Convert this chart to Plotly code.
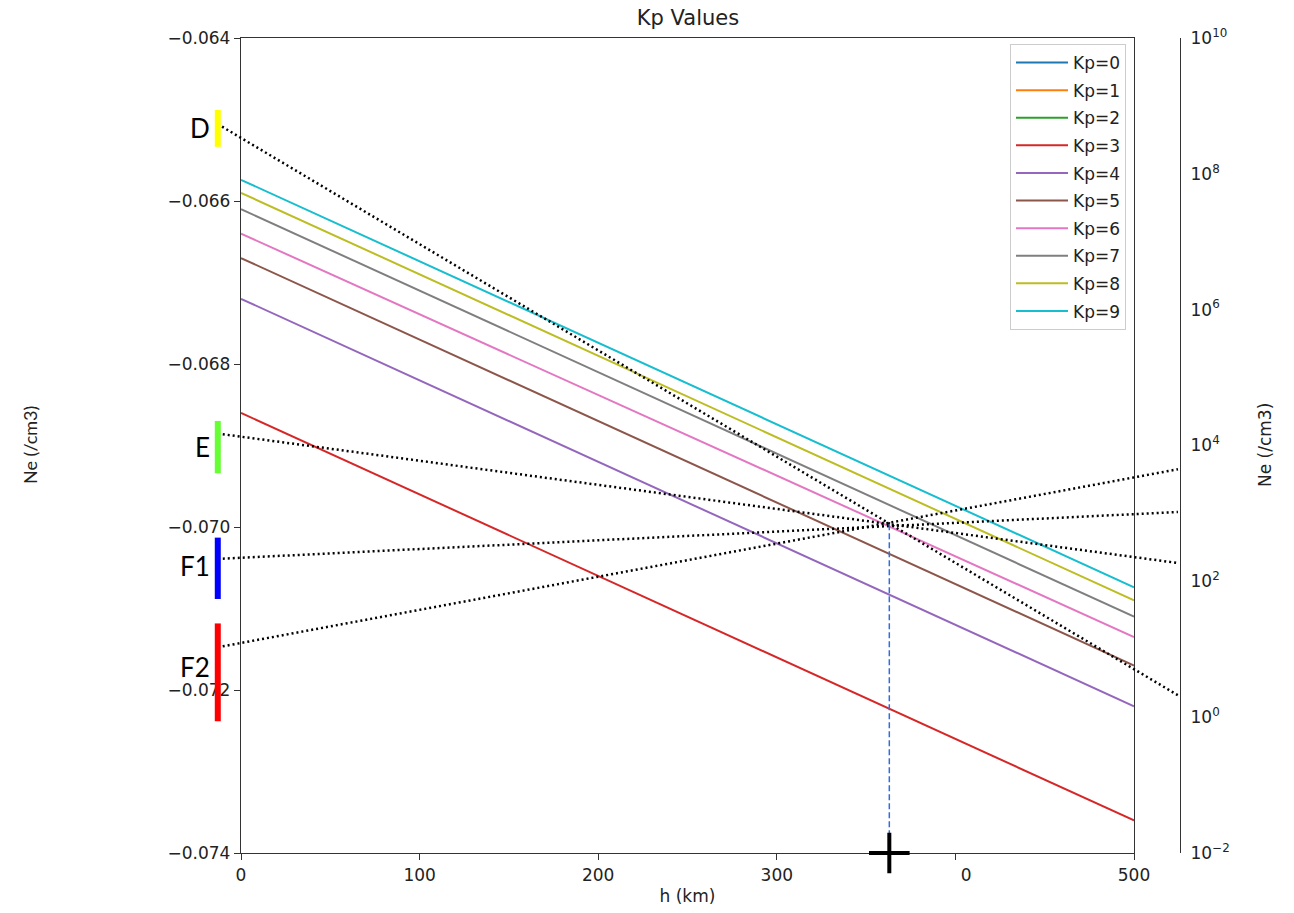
import math
import plotly.graph_objects as go

# ---- data -------------------------------------------------------------
h_km = [0, 500]
kp_labels = ["Kp=0", "Kp=1", "Kp=2", "Kp=3", "Kp=4", "Kp=5", "Kp=6", "Kp=7", "Kp=8", "Kp=9"]
kp_colors = ["#1f77b4", "#ff7f0e", "#2ca02c", "#d62728", "#9467bd",
             "#8c564b", "#e377c2", "#7f7f7f", "#bcbd22", "#17becf"]
# Ne value of each Kp line at h = 0 and h = 500 km (left axis)
kp_ne = [
    [-0.0850, -0.0900],
    [-0.0790, -0.0840],
    [-0.0752, -0.0802],
    [-0.0686, -0.0736],
    [-0.0672, -0.0722],
    [-0.0667, -0.0717],
    [-0.0664, -0.07135],
    [-0.0661, -0.0711],
    [-0.0659, -0.0709],
    [-0.06574, -0.07074],
]

# ionospheric layers (right, logarithmic axis)
layer_names = ["D", "E", "F1", "F2"]
layer_colors = ["#ffff00", "#66ff33", "#0000ff", "#ff0000"]
layer_low = [2.5e8, 3.9e3, 55, 0.87]
layer_high = [8.7e8, 2.3e4, 440, 24]
layer_x = -13            # h (km) where the layer bars sit
trend_x = [-13, 524.6]   # h (km) span of the dotted trend lines
trend_start = [5.4e8, 1.5e4, 214, 10.7]
trend_end = [2.1, 186, 1050, 4470]

cross_h = 363            # h (km) where the trend lines meet
cross_ne = 690

x_ticks = [0, 100, 200, 300, 400, 500]
x_ticktext = ["0", "100", "200", "300", "\u2007\u20070", "500"]
y_ticks = [-0.074, -0.072, -0.070, -0.068, -0.066, -0.064]
y_ticktext = ["\u22120.074", "\u22120.072", "\u22120.070", "\u22120.068", "\u22120.066", "\u22120.064"]
y2_ticks = [1e-2, 1e0, 1e2, 1e4, 1e6, 1e8, 1e10]
y2_ticktext = ["10<sup>\u22122</sup>", "10<sup>0</sup>", "10<sup>2</sup>", "10<sup>4</sup>",
               "10<sup>6</sup>", "10<sup>8</sup>", "10<sup>10</sup>"]

# ---- layout geometry (pixels) -----------------------------------------
W, H = 1294, 913
ML, MR, MT, MB = 200, 114, 38, 60
AX_L, AX_R = 241, 1134            # main plot frame
PW = W - ML - MR
PH = H - MT - MB
km_per_px = 500 / (AX_R - AX_L)
x2_range = [(ML - AX_L) * km_per_px, (W - MR - AX_L) * km_per_px]

FONT = "DejaVu Sans"
AX_COL = "#333333"
TXT_COL = "#222222"

fig = go.Figure()

for name, col, ys in zip(kp_labels, kp_colors, kp_ne):
    fig.add_trace(go.Scatter(
        x=h_km, y=ys, mode="lines", name=name, legendgroup=name,
        line=dict(color=col, width=2), xaxis="x", yaxis="y"))

# dotted trend lines on the log axis
for s, e in zip(trend_start, trend_end):
    fig.add_trace(go.Scatter(
        x=trend_x, y=[s, e], mode="lines", showlegend=False, hoverinfo="skip",
        line=dict(color="black", width=2.5, dash="2px,3px"),
        xaxis="x2", yaxis="y2"))

# coloured layer bars
for col, lo, hi in zip(layer_colors, layer_low, layer_high):
    fig.add_trace(go.Scatter(
        x=[layer_x, layer_x], y=[lo, hi], mode="lines", showlegend=False,
        hoverinfo="skip", line=dict(color=col, width=6),
        xaxis="x2", yaxis="y2"))

# vertical drop from the crossing point
fig.add_trace(go.Scatter(
    x=[cross_h, cross_h], y=[cross_ne, y2_ticks[0]], mode="lines",
    showlegend=False, hoverinfo="skip",
    line=dict(color="#2f6ee0", width=1.5, dash="6px,3px"),
    xaxis="x2", yaxis="y2"))

fig.add_trace(go.Scatter(
    x=[cross_h], y=[y2_ticks[0]], mode="markers", showlegend=False,
    hoverinfo="skip", cliponaxis=False,
    marker=dict(symbol="cross-thin", size=29, line=dict(color="black", width=4)),
    xaxis="x2", yaxis="y2"))

# layer names beside the bars (F2 sits a little above its bar centre)
label_shift = [0, 0, 2, 5]
annotations = []
for name, lo, hi, dy in zip(layer_names, layer_low, layer_high, label_shift):
    mid = (math.log10(lo) + math.log10(hi)) / 2
    annotations.append(dict(
        x=layer_x, y=mid, xref="x2", yref="y2", text=name, showarrow=False,
        xanchor="right", yanchor="middle", xshift=-6, yshift=dy,
        font=dict(family="Lato", size=26, color="black")))

annotations.append(dict(
    x=(30 - ML) / PW, y=1 - (445 - MT) / PH, xref="paper", yref="paper",
    text="Ne (/cm3)", textangle=-90, showarrow=False,
    xanchor="center", yanchor="middle",
    font=dict(family="Lato", size=18, color=TXT_COL)))
annotations.append(dict(
    x=(1265 - ML) / PW, y=1 - (445 - MT) / PH, xref="paper", yref="paper",
    text="Ne (/cm3)", textangle=-90, showarrow=False,
    xanchor="center", yanchor="middle",
    font=dict(family=FONT, size=17, color=TXT_COL)))

fig.update_layout(
    width=W, height=H,
    margin=dict(l=ML, r=MR, t=MT, b=MB, autoexpand=False),
    paper_bgcolor="white", plot_bgcolor="rgba(0,0,0,0)",
    font=dict(family=FONT, size=17, color=TXT_COL),
    title=dict(text="Kp Values", x=(688 - ML) / PW, xref="paper", xanchor="center",
               y=1 - 18 / H, yref="container", yanchor="middle",
               font=dict(family=FONT, size=21, color=TXT_COL)),
    xaxis=dict(domain=[(AX_L - ML) / PW, (AX_R - ML) / PW], range=[0, 500],
               tickvals=x_ticks, ticktext=x_ticktext, ticks="outside", ticklen=6,
               tickcolor=AX_COL, showline=True, linecolor=AX_COL, linewidth=1.3,
               mirror=True, showgrid=False, zeroline=False, anchor="y",
               title=dict(text="h (km)", standoff=6, font=dict(size=17))),
    yaxis=dict(domain=[0, 1], range=[-0.074, -0.064], tickvals=y_ticks,
               ticktext=y_ticktext, ticks="outside", ticklen=6, tickcolor=AX_COL,
               showline=True, linecolor=AX_COL, linewidth=1.3, mirror=True,
               showgrid=False, zeroline=False, anchor="x"),
    xaxis2=dict(domain=[0, 1], range=x2_range, visible=False, anchor="y2",
                showgrid=False, zeroline=False),
    yaxis2=dict(domain=[0, 1], type="log", range=[-2, 10], tickvals=y2_ticks,
                ticktext=y2_ticktext, ticks="", ticklabelstandoff=6,
                side="right", anchor="free", position=1.0,
                showline=True, linecolor=AX_COL, linewidth=1.3,
                showgrid=False, zeroline=False),
    legend=dict(x=(1126 - ML) / PW, y=1 - (44 - MT) / PH,
                xanchor="right", yanchor="top", bgcolor="white",
                bordercolor="#cccccc", borderwidth=1, tracegroupgap=2.5,
                itemwidth=52,
                font=dict(family=FONT, size=17, color=TXT_COL)),
    annotations=annotations,
    showlegend=True,
)

fig.write_html("out.html")
